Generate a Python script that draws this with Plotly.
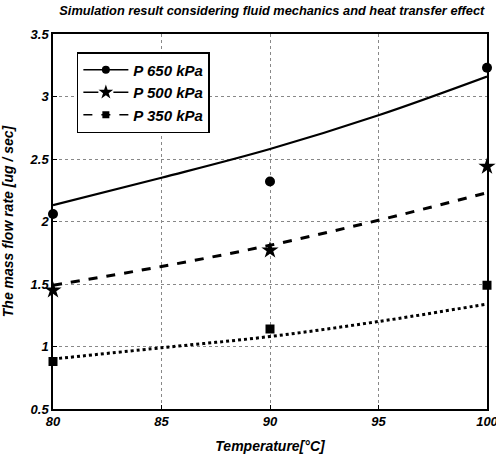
import plotly.graph_objects as go

temps = [80, 85, 90, 95, 100]
sim_650 = [2.13, 2.35, 2.58, 2.85, 3.16]
sim_500 = [1.49, 1.64, 1.81, 2.01, 2.23]
sim_350 = [0.90, 0.99, 1.08, 1.20, 1.34]

exp_temps = [80, 90, 100]
exp_650 = [2.06, 2.32, 3.23]
exp_500 = [1.45, 1.77, 2.44]
exp_350 = [0.88, 1.14, 1.49]

labels = ["P 650 kPa", "P 500 kPa", "P 350 kPa"]

FONT = "Liberation Sans, Arial, sans-serif"
fig = go.Figure()

sims = [sim_650, sim_500, sim_350]
exps = [exp_650, exp_500, exp_350]
dashes = ["solid", "dash", "dot"]
widths = [2.2, 3, 3]
legend_dashes = ["solid", "longdash", "dash"]
symbols = ["circle", "star", "square"]
sizes = [10, 13, 9]

for s, e, d, w, sym, sz in zip(sims, exps, dashes, widths, symbols, sizes):
    fig.add_trace(go.Scatter(x=temps, y=s, mode="lines",
                             line=dict(color="black", width=w, dash=d, shape="spline"),
                             showlegend=False, cliponaxis=False, hoverinfo="skip"))
    fig.add_trace(go.Scatter(x=exp_temps, y=e, mode="markers",
                             marker=dict(symbol=sym, size=sz, color="black"),
                             showlegend=False, cliponaxis=False))

for lab, d, sym, sz in zip(labels, legend_dashes, symbols, sizes):
    fig.add_trace(go.Scatter(x=[None], y=[None], mode="lines+markers", name=lab,
                             line=dict(color="black", width=1.5, dash=d),
                             marker=dict(symbol=sym, size=sz - 2, color="black")))

axis_common = dict(
    showline=True, linecolor="black", linewidth=1.5, mirror=True,
    ticks="inside", ticklen=4, tickcolor="black",
    showgrid=True, gridcolor="#888", griddash="dot", gridwidth=1,
    zeroline=False, automargin=False, ticklabeloverflow="allow",
    tickfont=dict(family=FONT, size=13, color="black", weight="bold", style="italic"),
)

fig.update_xaxes(range=[80, 100], tickvals=[80, 85, 90, 95, 100],
                 title=dict(text="Temperature[°C]",
                            font=dict(family=FONT, size=14, color="black", weight="bold", style="italic")),
                 **axis_common)
fig.update_yaxes(range=[0.5, 3.5], tickvals=[0.5, 1, 1.5, 2, 2.5, 3, 3.5],
                 ticktext=["0.5", "1", "1.5", "2", "2.5", "3", "3.5"],
                 title=dict(text="The mass flow rate [ug / sec]",
                            font=dict(family=FONT, size=14, color="black", weight="bold", style="italic")),
                 **axis_common)

fig.update_layout(
    width=496, height=454,
    margin=dict(l=53, r=9, t=34, b=44.5),
    paper_bgcolor="white", plot_bgcolor="white",
    title=dict(text="Simulation result considering fluid mechanics and heat transfer effect",
               x=0.548, xanchor="center", y=0.976, yanchor="middle",
               font=dict(family=FONT, size=12.8, color="black", weight="bold", style="italic")),
    legend=dict(x=0.055, y=0.952, xanchor="left", yanchor="top",
                bgcolor="white", bordercolor="black", borderwidth=1.5,
                font=dict(family=FONT, size=15, color="black", weight="bold", style="italic"),
                itemwidth=45, tracegroupgap=0),
    showlegend=True,
)

fig.write_html("out.html", config={"displayModeBar": False},
               post_script="document.body.style.margin='0';")
